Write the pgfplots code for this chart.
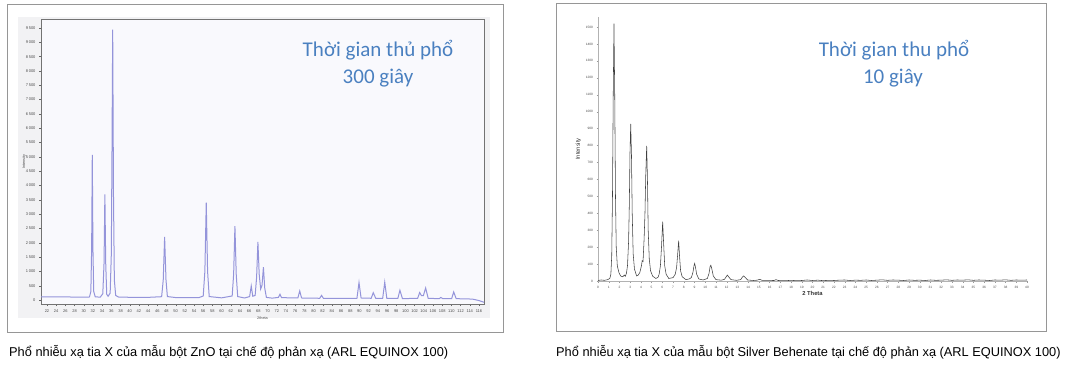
\documentclass[border=0pt]{standalone}
\usepackage{fontspec}
\setmainfont{Liberation Sans}
\newfontfamily\titlefont{Carlito}
\usepackage{pgfplots}
\pgfplotsset{compat=1.18}
\definecolor{titleblue}{RGB}{74,128,192}
\definecolor{znoline}{RGB}{148,148,218}
\definecolor{frameg}{RGB}{150,150,150}
\definecolor{outerbg}{RGB}{242,242,244}
\definecolor{innerbg}{RGB}{249,249,253}
\begin{document}
\begin{tikzpicture}[x=1pt,y=1pt]
\useasboundingbox (0,0) rectangle (1069,368);
% frames
\draw[frameg, line width=0.9pt] (7,36) rectangle (503,364);
\draw[frameg, line width=0.9pt] (556,37) rectangle (1046,365);
\fill[outerbg] (18,50) rectangle (490,351);
% left axis: ZnO
\begin{axis}[
  at={(41pt,64pt)}, anchor=south west,
  width=443pt, height=285pt, scale only axis,
  xmin=20.7, xmax=117.1, ymin=-140, ymax=9814,
  axis background/.style={fill=innerbg},
  axis line style={draw=black!55, line width=0.6pt},
  xtick={22,24,...,116},
  ytick={0,500,...,9500},
  yticklabels={0,500,1\,000,1\,500,2\,000,2\,500,3\,000,3\,500,4\,000,4\,500,5\,000,5\,500,6\,000,6\,500,7\,000,7\,500,8\,000,8\,500,9\,000,9\,500},
  tick label style={font=\fontsize{4}{4}\selectfont, text=black!70},
  /pgf/number format/assume math mode=true,
  tick style={black!60, line width=0.3pt},
  major tick length=2pt,
  tick align=outside,
  xtick pos=bottom, ytick pos=left,
  xlabel={2theta}, ylabel={Intensity},
  label style={font=\fontsize{3.8}{4}\selectfont, text=black!70},
  xlabel style={yshift=2pt},
  ylabel style={yshift=-7pt},
  clip=true,
]
\addplot[znoline, line width=1pt] coordinates {
(20.7,110) (25,108) (30,100) (31.25,105) (31.55,300) (31.72,1800) (31.86,5070) (32.0,1800) (32.17,300) (32.5,110)
(33.6,100) (34.15,220) (34.42,1300) (34.6,3690) (34.78,1300) (35.0,200) (35.3,130)
(35.75,240) (36.0,1600) (36.15,5200) (36.3,9440) (36.47,3700) (36.66,700) (36.95,160) (37.6,100)
(40,95) (44,92) (46.95,115) (47.3,700) (47.6,2200) (47.9,700) (48.2,120)
(50,85) (55,80) (56.0,140) (56.36,1000) (56.66,3400) (56.95,1000) (57.3,120)
(60,75) (62.3,140) (62.62,900) (62.9,2580) (63.18,900) (63.5,120)
(65,70) (66.1,120) (66.45,490) (66.78,130) (67.3,160) (67.62,800) (67.9,2030) (68.18,900) (68.5,380)
(68.8,520) (69.1,1150) (69.38,420) (69.75,90) (71,65) (72.35,90) (72.7,200) (73.05,80)
(76.6,75) (77.0,315) (77.4,70) (81.35,60) (81.75,160) (82.15,60)
(89.45,60) (89.9,610) (90.35,70) (92.55,60) (93.0,255) (93.55,55) (95.05,60) (95.5,620) (95.95,60)
(98.35,55) (98.8,340) (99.35,50) (102.65,55) (103.1,260) (103.5,150) (103.9,150) (104.4,420) (104.95,60)
(107.35,45) (107.7,90) (108.15,45) (110.05,45) (110.5,280) (111.05,45) (113.5,40) (114.8,25) (116,-20) (117.1,-80)
};
\end{axis}
% right axis: Silver Behenate
\begin{axis}[
  at={(598pt,87pt)}, anchor=south west,
  width=429pt, height=264pt, scale only axis,
  xmin=0, xmax=40, ymin=0, ymax=1559,
  axis x line=bottom, axis y line=left,
  axis line style={-, draw=black!30, line width=0.5pt},
  xtick={0,1,...,40},
  ytick={0,100,...,1500},
  tick label style={font=\fontsize{3.2}{3.5}\selectfont, text=black!70},
  /pgf/number format/assume math mode=true,
  /pgf/number format/1000 sep={},
  tick style={black!40, line width=0.3pt},
  major tick length=1.5pt,
  tick align=outside,
  xlabel={\textbf{2 Theta}}, ylabel={Intensity},
  xlabel style={font=\fontsize{5.8}{6}\selectfont, text=black!80, yshift=4pt},
  ylabel style={font=\fontsize{5.8}{6}\selectfont, text=black!80, yshift=-2pt},
  clip=false,
]
\addplot[black!75, line width=0.55pt] coordinates {
(0,3) (0.3,6) (0.6,4) (0.9,8) (1.1,15) (1.2,40) (1.28,150) (1.35,500) (1.42,1100) (1.49,1520) (1.56,1100) (1.63,500)
(1.7,200) (1.8,90) (1.95,50) (2.1,30) (2.3,25) (2.45,35) (2.55,28) (2.65,45) (2.75,90) (2.85,230) (2.92,450)
(2.98,750) (3.05,928) (3.12,750) (3.19,400) (3.28,160) (3.4,70) (3.6,30) (3.75,35) (3.9,50) (4.05,90) (4.12,120)
(4.2,115) (4.3,250) (4.38,400) (4.45,620) (4.54,798) (4.61,600) (4.68,300) (4.78,130) (4.9,60) (5.1,28) (5.4,15)
(5.6,22) (5.7,40) (5.82,90) (5.92,200) (6.03,351) (6.12,220) (6.22,90) (6.35,40) (6.6,15) (7.0,20) (7.2,40)
(7.33,80) (7.43,160) (7.52,238) (7.6,150) (7.7,60) (7.85,25) (8.2,8) (8.5,12) (8.7,20) (8.85,50) (8.95,90)
(9.01,104) (9.08,85) (9.2,40) (9.4,12) (9.8,6) (10.2,15) (10.35,45) (10.45,85) (10.52,93) (10.6,75) (10.75,30)
(11,8) (11.5,5) (11.8,10) (11.95,25) (12.06,35) (12.18,25) (12.4,8) (12.9,4) (13.3,8) (13.45,22) (13.58,30)
(13.7,22) (13.95,6) (14.5,3) (14.85,5) (15.07,10) (15.3,4)
(16.4,3) (16.6,8) (16.8,3) (17.5,4) (18,2) (18.5,4) (19,3) (19.5,6) (20,3) (20.5,5) (21,2) (21.5,4) (22,3)
(22.5,5) (23,6) (23.5,3) (24,5) (24.5,4) (25,6) (25.5,3) (26,5) (26.5,7) (27,4) (27.5,6) (28,5) (28.5,3)
(29,6) (29.5,4) (30,5) (30.5,3) (31,6) (31.5,4) (32,5) (32.5,7) (33,4) (33.5,6) (34,5) (34.5,7) (35,4)
(35.5,6) (36,5) (36.5,3) (37,6) (37.5,5) (38,7) (38.5,4) (39,6) (39.5,5) (40,6)
};
\end{axis}
% titles
\node[titleblue, font=\titlefont\fontsize{21}{21}\selectfont] at (378,318) {Thời gian thủ phổ};
\node[titleblue, font=\titlefont\fontsize{21}{21}\selectfont] at (378,290) {300 giây};
\node[titleblue, font=\titlefont\fontsize{21}{21}\selectfont] at (894,318) {Thời gian thu phổ};
\node[titleblue, font=\titlefont\fontsize{21}{21}\selectfont] at (893,290) {10 giây};
% captions
\node[anchor=west, inner sep=0pt, font=\fontsize{12.8}{13}\selectfont] at (9,16) {Phổ nhiễu xạ tia X của mẫu bột ZnO tại chế độ phản xạ (ARL EQUINOX 100)};
\node[anchor=west, inner sep=0pt, font=\fontsize{12.8}{13}\selectfont] at (556,16) {Phổ nhiễu xạ tia X của mẫu bột Silver Behenate tại chế độ phản xạ (ARL EQUINOX 100)};
\end{tikzpicture}
\end{document}
